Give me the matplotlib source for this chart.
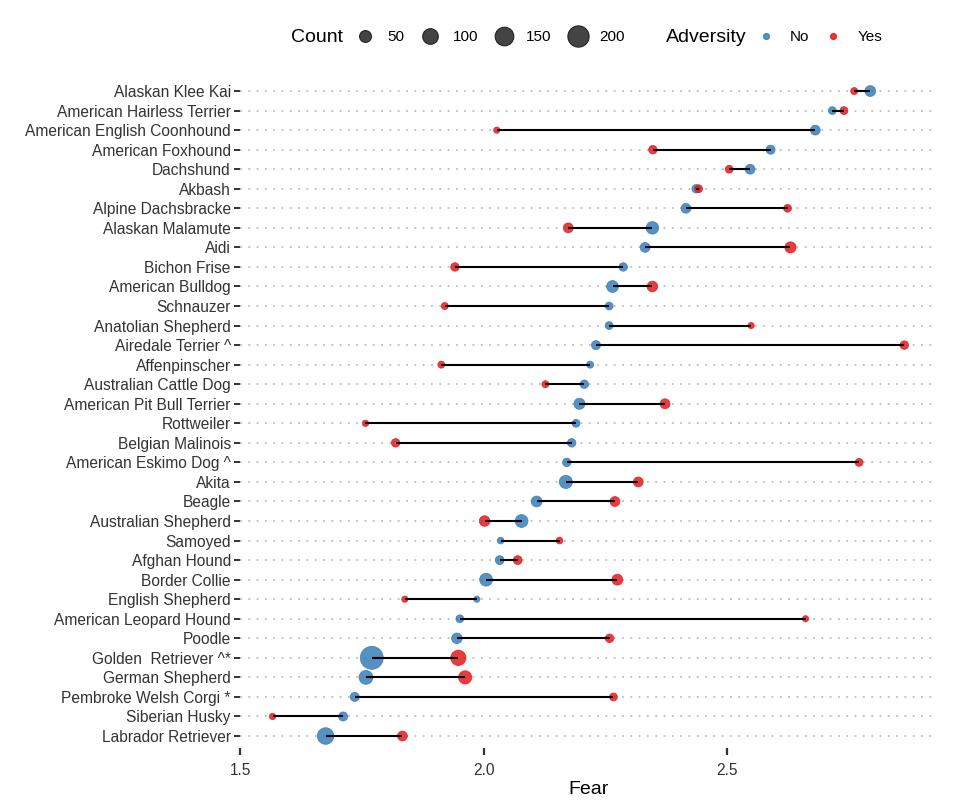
import numpy as np
import matplotlib.pyplot as plt
from matplotlib.lines import Line2D

plt.rcParams['font.family'] = ['Liberation Sans', 'DejaVu Sans']

breeds = ['Alaskan Klee Kai', 'American Hairless Terrier', 'American English Coonhound',
          'American Foxhound', 'Dachshund', 'Akbash', 'Alpine Dachsbracke', 'Alaskan Malamute',
          'Aidi', 'Bichon Frise', 'American Bulldog', 'Schnauzer', 'Anatolian Shepherd',
          'Airedale Terrier ^', 'Affenpinscher', 'Australian Cattle Dog',
          'American Pit Bull Terrier', 'Rottweiler', 'Belgian Malinois', 'American Eskimo Dog ^',
          'Akita', 'Beagle', 'Australian Shepherd', 'Samoyed', 'Afghan Hound', 'Border Collie',
          'English Shepherd', 'American Leopard Hound', 'Poodle', 'Golden  Retriever ^*',
          'German Shepherd', 'Pembroke Welsh Corgi *', 'Siberian Husky', 'Labrador Retriever']

# mean Fear score, no adversity / adversity
fear_no = [2.795, 2.717, 2.682, 2.590, 2.548, 2.437, 2.416, 2.347, 2.332, 2.287,
           2.265, 2.258, 2.258, 2.231, 2.219, 2.207, 2.197, 2.190, 2.181, 2.171,
           2.169, 2.109, 2.078, 2.035, 2.033, 2.005, 1.986, 1.951, 1.945, 1.770,
           1.758, 1.735, 1.711, 1.675]
fear_yes = [2.762, 2.741, 2.027, 2.348, 2.505, 2.442, 2.625, 2.174, 2.631, 1.941,
            2.347, 1.920, 2.550, 2.865, 1.913, 2.127, 2.373, 1.757, 1.819, 2.772,
            2.318, 2.270, 2.002, 2.156, 2.070, 2.275, 1.838, 2.662, 2.259, 1.948,
            1.962, 2.267, 1.566, 1.833]

# number of dogs in each group
count_no = [39, 12, 29, 22, 29, 17, 29, 58, 29, 17,
            50, 12, 12, 22, 6, 17, 42, 12, 17, 17,
            66, 39, 62, 4, 20, 62, 1, 12, 36, 236,
            75, 22, 22, 115]
count_yes = [6, 12, 1, 17, 12, 12, 12, 29, 42, 17,
             36, 6, 1, 17, 6, 6, 29, 2, 17, 12,
             29, 29, 36, 4, 20, 39, 1, 1, 17, 94,
             66, 12, 2, 29]

legend_counts = [50, 100, 150, 200]

blue = '#377EB8'
red = '#E41A1C'


def marker_area(c):
    # diameter in px -> area in pt^2 (dpi 100)
    d = np.sqrt(36 + 2.07 * np.asarray(c, dtype=float))
    return (d * 0.72) ** 2


fig, ax = plt.subplots(figsize=(9.8, 8.11), dpi=100)
fig.subplots_adjust(left=0.2454, right=0.955, top=0.9022, bottom=0.078)

y = np.arange(len(breeds))

# dotted row guides
for yi in y:
    ax.axhline(yi, color='#BDBDBD', lw=1.3, ls=(0, (1, 3.6)), zorder=0)

ax.scatter(fear_no, y, s=marker_area(count_no), color=blue, alpha=0.85,
           edgecolors=blue, linewidths=0.6, zorder=2)
ax.scatter(fear_yes, y, s=marker_area(count_yes), color=red, alpha=0.85,
           edgecolors=red, linewidths=0.6, zorder=2)
ax.hlines(y, fear_no, fear_yes, color='black', lw=1.5, zorder=3)

ax.set_xlim(1.501, 2.93)
ax.set_ylim(len(breeds) - 1 + 0.6, -0.6)
ax.set_yticks(y)
ax.set_yticklabels(breeds)
ax.set_xticks([1.5, 2.0, 2.5])
ax.set_xticklabels(['1.5', '2.0', '2.5'])
ax.tick_params(axis='both', labelsize=11.2, labelcolor='#333333', color='#333333')
ax.tick_params(axis='y', length=4, width=1.4, pad=3)
ax.tick_params(axis='x', length=5, width=1.6, pad=6)
for sp in ax.spines.values():
    sp.set_visible(False)
ax.set_xlabel('Fear', fontsize=14, labelpad=2)

# legends across the top
fig.text(291 / 980, 1 - 37 / 811, 'Count', fontsize=14, va='center', ha='left')
size_handles = [Line2D([], [], ls='', marker='o', markersize=np.sqrt(marker_area(c)),
                       markerfacecolor='#444444', markeredgecolor='#222222',
                       markeredgewidth=0.8) for c in legend_counts]
fig.legend(size_handles, [str(c) for c in legend_counts], loc='center left',
           bbox_to_anchor=(356 / 980, 1 - 37 / 811), ncol=4, frameon=False,
           fontsize=11, handlelength=1.2, handletextpad=0.85, columnspacing=1.1,
           borderpad=0, borderaxespad=0)

fig.text(666 / 980, 1 - 37 / 811, 'Adversity', fontsize=14, va='center', ha='left')
adv_handles = [Line2D([], [], ls='', marker='o', markersize=4.2, markerfacecolor=col,
                      markeredgecolor=col, alpha=0.85) for col in (blue, red)]
fig.legend(adv_handles, ['No', 'Yes'], loc='center left',
           bbox_to_anchor=(758 / 980, 1 - 37 / 811), ncol=2, frameon=False,
           fontsize=11, handlelength=1.0, handletextpad=1.1, columnspacing=1.05,
           borderpad=0, borderaxespad=0)

fig.savefig('out.png', dpi=100)
